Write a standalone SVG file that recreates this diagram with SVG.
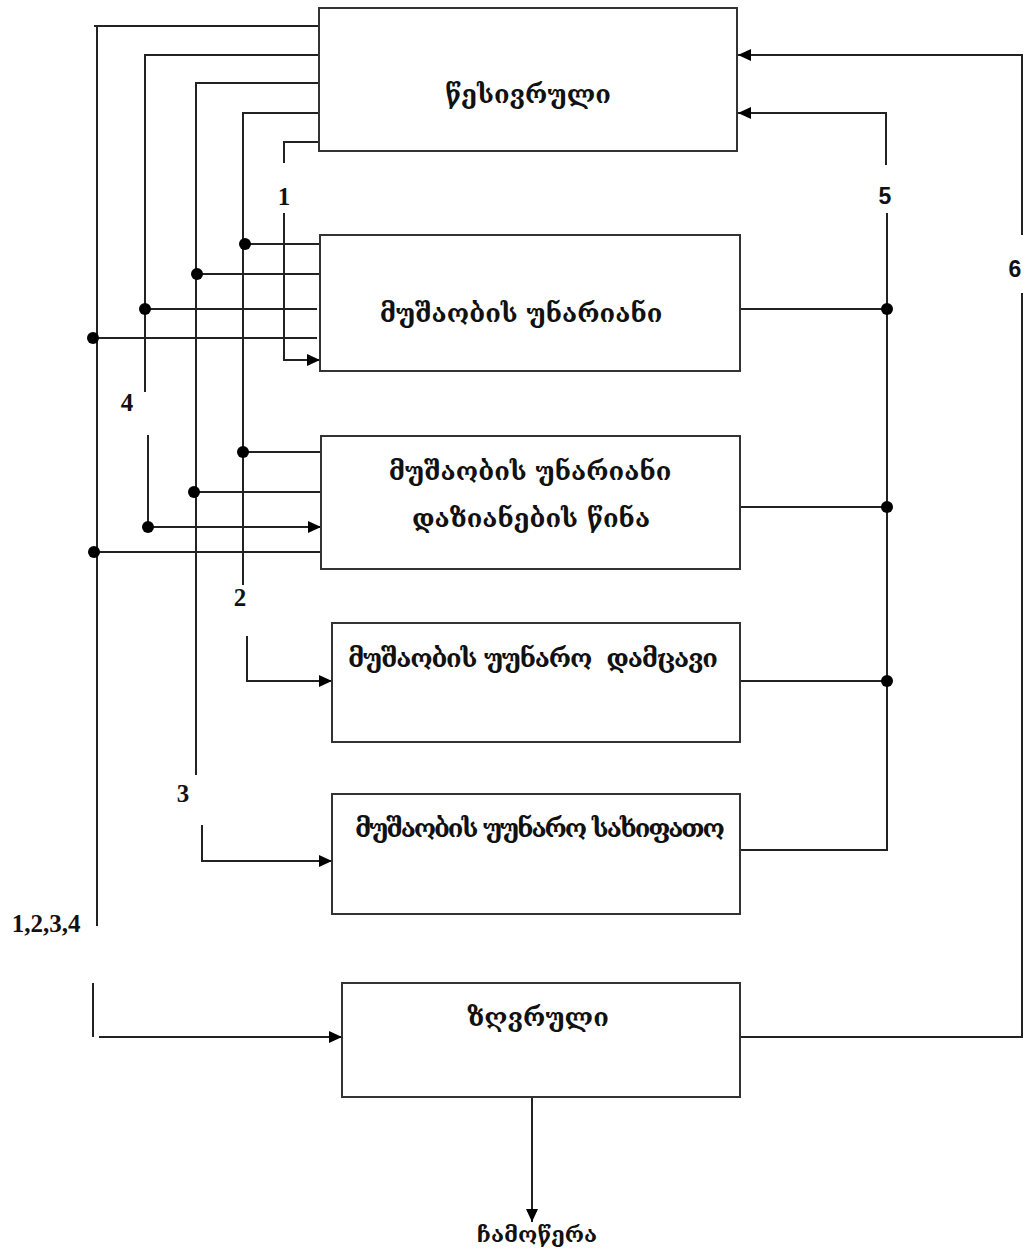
<svg xmlns="http://www.w3.org/2000/svg" width="1027" height="1250" viewBox="0 0 1027 1250">
  <style>
    .box { fill: #fff; stroke: #333; stroke-width: 2; }
    .ln { fill: none; stroke: #222; stroke-width: 2; }
    .arr { fill: none; stroke: #222; stroke-width: 2; marker-end: url(#tip); }
    .dot { fill: #000; }
    .ka { font-family: "DejaVu Serif", "DejaVu Sans", serif; font-weight: bold; font-size: 25.5px; fill: #111; text-anchor: middle; white-space: pre; }
    .out { font-size: 22px; }
    .num { font-family: "Liberation Serif", serif; font-weight: bold; font-size: 25px; fill: #111; text-anchor: middle; }
    .nums { font-family: "Liberation Sans", sans-serif; font-weight: bold; font-size: 23px; fill: #111; text-anchor: middle; }
  </style>
  <defs>
    <marker id="tip" markerUnits="userSpaceOnUse" markerWidth="14" markerHeight="12" refX="13" refY="6" orient="auto">
      <path d="M0 0 L13 6 L0 12 Z" fill="#000"/>
    </marker>
  </defs>
  <rect width="1027" height="1250" fill="#fff"/>

  <g id="connectors">
    <!-- outputs of the top block fanning down the left side -->
    <path class="ln" d="M318 26 H94 M97 26 V926"/>
    <path class="ln" d="M318 55 H145 V392"/>
    <path class="ln" d="M318 83 H196 V775"/>
    <path class="ln" d="M318 113 H243 V585"/>
    <path class="ln" d="M318 142 H284 V163"/>

    <!-- taps into the first working block -->
    <path class="ln" d="M245 244 H320"/>
    <path class="ln" d="M197 274 H323"/>
    <path class="ln" d="M145 309 H317"/>
    <path class="ln" d="M94 338 H317"/>
    <path class="arr" d="M284 213 V360 H320"/>

    <!-- taps into the second working block -->
    <path class="ln" d="M243 452 H321"/>
    <path class="ln" d="M194 492 H321"/>
    <path class="arr" d="M148 435 V527 H321"/>
    <path class="ln" d="M94 552 H321"/>

    <!-- inputs of the inoperable blocks -->
    <path class="arr" d="M247 636 V681 H332"/>
    <path class="arr" d="M202 825 V861 H332"/>

    <!-- combined route into the limit block -->
    <path class="ln" d="M93 983 V1037"/>
    <path class="arr" d="M99 1037 H342"/>

    <!-- feedback on the right side -->
    <path class="ln" d="M740 309 H887"/>
    <path class="ln" d="M738 507 H887"/>
    <path class="ln" d="M740 681 H887"/>
    <path class="ln" d="M740 850 H887 V213"/>
    <path class="arr" d="M886 165 V113 H738"/>
    <path class="ln" d="M740 1037 H1022 V293"/>
    <path class="arr" d="M1022 235 V55 H738"/>

    <!-- write-off output -->
    <path class="arr" d="M532 1097 V1222"/>

    <!-- junction dots -->
    <circle class="dot" cx="245" cy="244" r="6"/>
    <circle class="dot" cx="197" cy="274" r="6"/>
    <circle class="dot" cx="145" cy="309" r="6"/>
    <circle class="dot" cx="93" cy="338" r="6"/>
    <circle class="dot" cx="243" cy="452" r="6"/>
    <circle class="dot" cx="194" cy="492" r="6"/>
    <circle class="dot" cx="148" cy="527" r="6"/>
    <circle class="dot" cx="94" cy="552" r="6"/>
    <circle class="dot" cx="887" cy="309" r="6"/>
    <circle class="dot" cx="887" cy="507" r="6"/>
    <circle class="dot" cx="887" cy="681" r="6"/>

    <!-- route numbers -->
    <text class="num" x="284" y="205">1</text>
    <text class="num" x="240" y="606">2</text>
    <text class="num" x="183" y="802">3</text>
    <text class="num" x="127" y="411">4</text>
    <text class="num" x="46" y="932">1,2,3,4</text>
    <text class="nums" x="885" y="204">5</text>
    <text class="nums" x="1015" y="277">6</text>
  </g>

  <g id="node-regular">
    <rect class="box" x="319" y="8" width="418" height="143"/>
    <text class="ka" x="528" y="103">წესივრული</text>
  </g>
  <g id="node-operable">
    <rect class="box" x="320" y="235" width="420" height="136"/>
    <text class="ka" x="521" y="322">მუშაობის უნარიანი</text>
  </g>
  <g id="node-operable-before-damage">
    <rect class="box" x="321" y="436" width="419" height="133"/>
    <text class="ka" x="530" y="480">მუშაობის უნარიანი</text>
    <text class="ka" x="531" y="527">დაზიანების წინა</text>
  </g>
  <g id="node-inoperable-protective">
    <rect class="box" x="332" y="623" width="408" height="119"/>
    <text class="ka" x="533" y="667" textLength="370" lengthAdjust="spacing">მუშაობის უუნარო  დამცავი</text>
  </g>
  <g id="node-inoperable-dangerous">
    <rect class="box" x="332" y="794" width="408" height="120"/>
    <text class="ka" x="540" y="837" textLength="370" lengthAdjust="spacing">მუშაობის უუნარო სახიფათო</text>
  </g>
  <g id="node-limit">
    <rect class="box" x="342" y="983" width="398" height="114"/>
    <text class="ka" x="538" y="1026">ზღვრული</text>
  </g>
  <g id="output-writeoff">
    <text class="ka out" x="537" y="1242">ჩამოწერა</text>
  </g>
</svg>
